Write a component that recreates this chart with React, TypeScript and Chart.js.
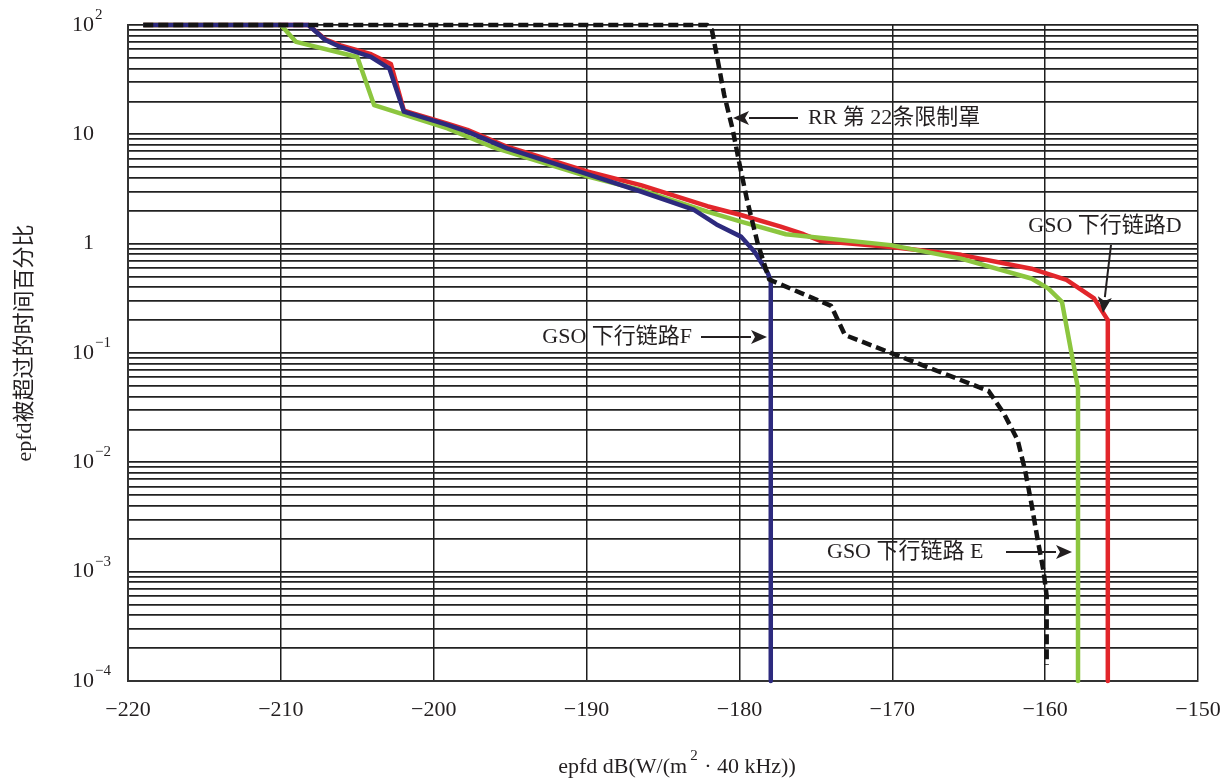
import { useEffect, useRef } from 'react';
import { Chart, registerables } from 'chart.js';

Chart.register(...registerables);

// ---- data (x: epfd dB(W/(m²·40kHz)), y: % of time) ----
const maskX = [-219, -182.1, -181.8, -181.4, -181.0, -180.45, -180.0, -179.5, -178.8, -178.05, -174.0, -173.1, -163.7, -162.7, -161.8, -161.3, -160.9, -160.5, -160.1, -159.9, -159.9];
const maskY = [100, 100, 90, 46, 23, 11.2, 5.4, 2.5, 1.0, 0.47, 0.27, 0.146, 0.045, 0.028, 0.016, 0.0083, 0.0042, 0.002, 0.001, 0.0006, 0.00014];

const blueX = [-219, -208.2, -207.1, -206.1, -204.1, -202.9, -201.95, -199.1, -197.8, -195.2, -189.9, -186.45, -183.0, -181.5, -179.9, -179.0, -178.15, -177.95, -177.95];
const blueY = [100, 100, 73, 63, 51, 40, 16.1, 12.2, 10.6, 7.45, 4.3, 3.0, 2.05, 1.5, 1.16, 0.84, 0.54, 0.46, 0.0001];

const greenX = [-219, -210.0, -209.0, -205.0, -203.9, -199.1, -196.2, -189.9, -186.45, -182.1, -179.9, -176.96, -170.1, -165.5, -160.9, -159.8, -158.9, -157.85, -157.85];
const greenY = [100, 100, 70, 51, 18.5, 11.35, 7.7, 4.1, 3.1, 1.96, 1.59, 1.22, 0.97, 0.73, 0.48, 0.39, 0.294, 0.0475, 0.0001];

const redX = [-219, -208.2, -207.1, -206.1, -204.1, -202.8, -201.95, -199.1, -197.8, -195.2, -189.9, -186.45, -182.1, -179.9, -177.3, -175.8, -174.7, -170.1, -165.5, -160.9, -158.6, -156.8, -155.9, -155.9];
const redY = [100, 100, 74, 65, 54, 44, 16.5, 12.5, 11, 7.7, 4.55, 3.43, 2.2, 1.83, 1.43, 1.22, 1.06, 0.93, 0.79, 0.59, 0.466, 0.316, 0.2, 0.0001];

const xTickValues = [-220, -210, -200, -190, -180, -170, -160, -150];
const xTickLabels = ['\u2212220', '\u2212210', '\u2212200', '\u2212190', '\u2212180', '\u2212170', '\u2212160', '\u2212150'];

const yLabelValues = [100, 10, 1, 0.1, 0.01, 0.001, 0.0001];
const yLabelBase = ['10', '10', '1', '10', '10', '10', '10'];
const yLabelExp = ['2', '', '', '\u22121', '\u22122', '\u22123', '\u22124'];

const xTitle1 = 'epfd dB(W/(m';
const xTitleSup = '2';
const xTitle2 = ' \u00B7 40 kHz))';
const yTitle = 'epfd被超过的时间百分比';

const labelRR = 'RR 第 22条限制罩';
const labelD = 'GSO 下行链路D';
const labelF = 'GSO 下行链路F';
const labelE = 'GSO 下行链路 E';

const FONT = '"Liberation Serif", "Noto Sans CJK SC", serif';
const TEXT = '#231f20';

const pts = (xs: number[], ys: number[]) => xs.map((x, i) => ({ x, y: ys[i] }));

// gridline positions for the log axis (1..9 × 10^n)
const gridValues: number[] = [];
for (let n = -4; n <= 1; n++) {
  for (let m = 1; m <= 9; m++) gridValues.push(Number((m * Math.pow(10, n)).toPrecision(3)));
}
gridValues.push(100);

function arrow(ctx: CanvasRenderingContext2D, x1: number, y1: number, x2: number, y2: number) {
  const ang = Math.atan2(y2 - y1, x2 - x1);
  const hl = 16, hw = 7;
  const bx = x2 - hl * Math.cos(ang), by = y2 - hl * Math.sin(ang);
  ctx.beginPath();
  ctx.moveTo(x1, y1);
  ctx.lineTo(bx, by);
  ctx.lineWidth = 2;
  ctx.strokeStyle = TEXT;
  ctx.stroke();
  ctx.beginPath();
  ctx.moveTo(x2, y2);
  ctx.lineTo(bx + hw * Math.sin(ang), by - hw * Math.cos(ang));
  ctx.lineTo(bx + 4 * Math.cos(ang), by + 4 * Math.sin(ang));
  ctx.lineTo(bx - hw * Math.sin(ang), by + hw * Math.cos(ang));
  ctx.closePath();
  ctx.fillStyle = TEXT;
  ctx.fill();
}

const overlay = {
  id: 'overlay',
  afterDraw(chart: any) {
    const ctx: CanvasRenderingContext2D = chart.ctx;
    const ys = chart.scales.y;
    const xs = chart.scales.x;
    ctx.save();
    ctx.fillStyle = TEXT;
    // x tick labels
    ctx.font = `22px ${FONT}`;
    ctx.textAlign = 'center';
    ctx.textBaseline = 'middle';
    xTickValues.forEach((v, i) => {
      ctx.fillText(xTickLabels[i], xs.getPixelForValue(v), 710);
    });
    // y tick labels with superscripts
    yLabelValues.forEach((v, i) => {
      const py = ys.getPixelForValue(v);
      ctx.font = `22px ${FONT}`;
      ctx.textAlign = 'right';
      ctx.textBaseline = 'middle';
      ctx.fillText(yLabelBase[i], 94, py);
      if (yLabelExp[i]) {
        ctx.font = `15px ${FONT}`;
        ctx.textAlign = 'left';
        ctx.fillText(yLabelExp[i], 95, py - 10);
      }
    });
    // x title
    ctx.font = `22px ${FONT}`;
    ctx.textBaseline = 'middle';
    ctx.textAlign = 'left';
    const w1 = ctx.measureText(xTitle1).width;
    ctx.font = `15px ${FONT}`;
    const ws = ctx.measureText(xTitleSup).width;
    ctx.font = `22px ${FONT}`;
    const w2 = ctx.measureText(xTitle2).width;
    const sx = 677 - (w1 + ws + 4 + w2) / 2;
    ctx.fillText(xTitle1, sx, 767);
    ctx.font = `15px ${FONT}`;
    ctx.fillText(xTitleSup, sx + w1 + 3, 756);
    ctx.font = `22px ${FONT}`;
    ctx.fillText(xTitle2, sx + w1 + ws + 4, 767);
    // y title
    ctx.save();
    ctx.translate(25, 343);
    ctx.rotate(-Math.PI / 2);
    ctx.textAlign = 'center';
    ctx.fillText(yTitle, 0, 0);
    ctx.restore();
    // annotations
    ctx.font = `22px ${FONT}`;
    ctx.textBaseline = 'middle';
    ctx.textAlign = 'left';
    ctx.fillText(labelRR, 808, 118);
    arrow(ctx, 798, 118, 733, 118);
    ctx.fillStyle = TEXT;
    ctx.textAlign = 'center';
    ctx.fillText(labelD, 1105, 226);
    arrow(ctx, 1111, 245, 1103, 313);
    ctx.fillStyle = TEXT;
    ctx.textAlign = 'right';
    ctx.fillText(labelF, 692, 337);
    arrow(ctx, 701, 337, 767, 337);
    ctx.fillStyle = TEXT;
    ctx.textAlign = 'left';
    ctx.fillText(labelE, 827, 552);
    arrow(ctx, 1006, 552, 1072, 552);
    ctx.restore();
  },
};

export default function App() {
  const ref = useRef<HTMLCanvasElement | null>(null);
  useEffect(() => {
    document.body.style.margin = '0';
    if (!ref.current) return;
    const line = (data: any, color: string, dash?: number[]) => ({
      data,
      borderColor: color,
      backgroundColor: color,
      borderWidth: 4.5,
      borderDash: dash || [],
      pointRadius: 0,
      tension: 0,
      fill: false,
      clip: 8,
      borderJoinStyle: 'round' as const,
      borderCapStyle: 'butt' as const,
    });
    const chart = new Chart(ref.current, {
      type: 'line',
      data: {
        datasets: [
          line(pts(maskX, maskY), '#141414', [10, 5]),
          line(pts(blueX, blueY), '#2d2a7e'),
          line(pts(greenX, greenY), '#8cc63f'),
          line(pts(redX, redY), '#e2262b'),
        ],
      },
      options: {
        animation: false,
        responsive: false,
        maintainAspectRatio: false,
        layout: { padding: { top: 25, right: 30, left: 0, bottom: 0 } },
        plugins: { legend: { display: false }, tooltip: { enabled: false } },
        scales: {
          x: {
            type: 'linear',
            min: -220,
            max: -150,
            ticks: { stepSize: 10, display: false },
            grid: { color: '#1e1e1e', lineWidth: 1.5, drawTicks: false },
            border: { display: true, color: '#333', width: 2 },
            afterFit: (s: any) => { s.height = 97; },
          },
          y: {
            type: 'logarithmic',
            min: 0.0001,
            max: 100,
            afterBuildTicks: (s: any) => { s.ticks = gridValues.map((v) => ({ value: v })); },
            ticks: { display: false },
            grid: { color: '#222', lineWidth: 1.7, drawTicks: false },
            border: { display: true, color: '#333', width: 2 },
            afterFit: (s: any) => { s.width = 128; },
          },
        },
      },
      plugins: [overlay],
    });
    return () => chart.destroy();
  }, []);
  return (
    <div style={{ width: 1228, height: 778, background: '#fff' }}>
      <canvas ref={ref} width={1228} height={778} style={{ display: 'block' }} />
    </div>
  );
}
